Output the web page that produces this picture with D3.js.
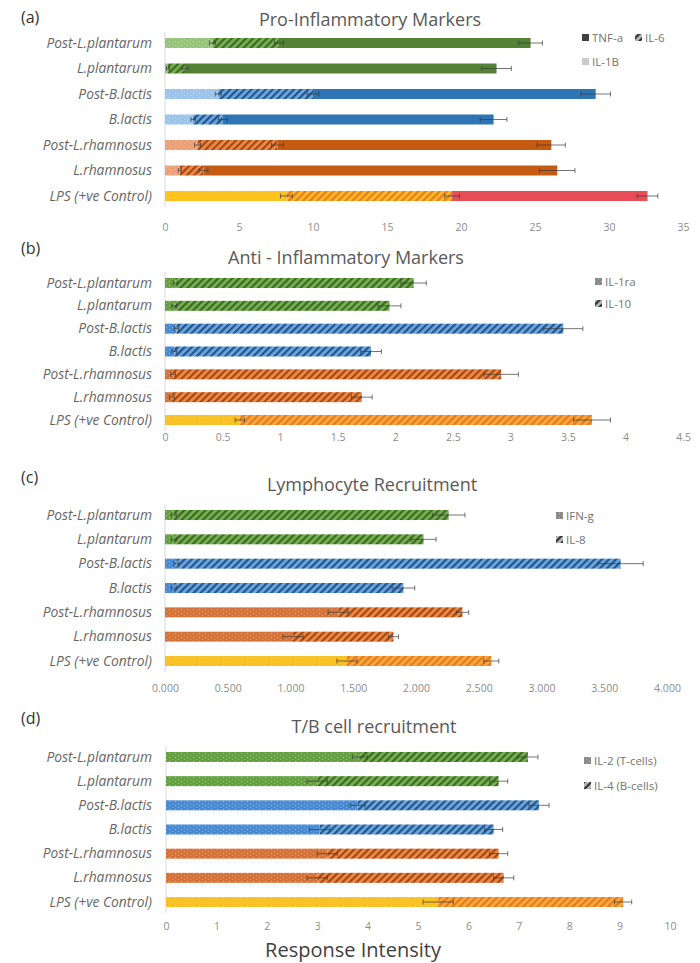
<!DOCTYPE html>
<html>
<head>
<meta charset="utf-8">
<script src="https://cdn.jsdelivr.net/npm/d3@7"></script>
<style>
    body { margin: 0; background: #fff; }
    svg { display: block; font-family: "Open Sans", Lato, sans-serif; }
</style>
</head>
<body>
<svg id="chart" width="700" height="963"></svg>
<script>
"use strict";

var categories = ['Post-L.plantarum', 'L.plantarum', 'Post-B.lactis', 'B.lactis',
                  'Post-L.rhamnosus', 'L.rhamnosus', 'LPS (+ve Control)'];

// (a) pro-inflammatory, stacked IL-1B -> IL-6 -> TNF-a
var il1bValues = [3.2, 0.2, 3.6, 1.9, 2.2, 1.0, 8.2];
var il1bErrors = [0.2, 0.1, 0.2, 0.15, 0.2, 0.1, 0.4];
var il6Values = [4.5, 1.15, 6.4, 2.0, 5.4, 1.6, 11.2];
var il6Errors = [0.3, 0.2, 0.4, 0.3, 0.4, 0.3, 0.5];
var tnfValues = [17.0, 21.05, 19.1, 18.3, 18.5, 23.9, 13.2];
var tnfErrors = [0.8, 1.0, 1.0, 0.9, 0.95, 1.2, 0.7];
var ticksA = [0, 5, 10, 15, 20, 25, 30, 35];

// (b) anti-inflammatory, IL-1ra -> IL-10
var il1raValues = [0.09, 0.08, 0.1, 0.08, 0.07, 0.06, 0.65];
var il1raErrors = [0.02, 0.02, 0.02, 0.02, 0.02, 0.02, 0.04];
var il10Values = [2.07, 1.87, 3.36, 1.71, 2.85, 1.65, 3.06];
var il10Errors = [0.11, 0.1, 0.17, 0.09, 0.15, 0.09, 0.16];
var ticksB = [0, 0.5, 1, 1.5, 2, 2.5, 3, 3.5, 4, 4.5];

// (c) lymphocyte recruitment, IFN-g -> IL-8
var ifngValues = [0.07, 0.07, 0.09, 0.07, 1.38, 1.02, 1.45];
var ifngErrors = [0.02, 0.02, 0.02, 0.02, 0.08, 0.08, 0.08];
var il8Values = [2.19, 1.99, 3.54, 1.83, 0.99, 0.80, 1.15];
var il8Errors = [0.13, 0.1, 0.18, 0.09, 0.05, 0.04, 0.06];
var ticksC = [0, 0.5, 1, 1.5, 2, 2.5, 3, 3.5, 4];

// (d) T/B cell recruitment, IL-2 -> IL-4
var il2Values = [3.85, 3.0, 3.8, 3.05, 3.2, 3.0, 5.4];
var il2Errors = [0.15, 0.2, 0.15, 0.2, 0.2, 0.2, 0.3];
var il4Values = [3.33, 3.6, 3.6, 3.45, 3.4, 3.7, 3.67];
var il4Errors = [0.2, 0.18, 0.2, 0.18, 0.18, 0.2, 0.17];
var ticksD = [0, 1, 2, 3, 4, 5, 6, 7, 8, 9, 10];

// colour family of each row: green, green, blue, blue, orange, orange, LPS
var families = ['green', 'green', 'blue', 'blue', 'orange', 'orange', 'lps'];
var palette = {
    green:  {solid: '#548235', light: '#97c47a', dotted: '#67a043', hatch: '#78b152', stripe: '#3b6b22'},
    blue:   {solid: '#2e75b6', light: '#9cc3e8', dotted: '#4a8ad0', hatch: '#6fa6dc', stripe: '#1f5590'},
    orange: {solid: '#c55a11', light: '#eba07a', dotted: '#d5743a', hatch: '#ee8a48', stripe: '#a44710'},
    lps:    {solid: '#e94d57', light: '#fdc01c', dotted: '#f8c024', hatch: '#f9a83e', stripe: '#e57a1e'},
    key:    {solid: '#404040', light: '#c8c8c8', dotted: '#8a8a8a', hatch: '#bbbbbb', stripe: '#333333'}
};

var svg = d3.select('#chart');
var defs = svg.append('defs');

Object.keys(palette).forEach(function(name) {
    var c = palette[name];

    var hatch = defs.append('pattern')
        .attr('id', 'hatch-' + name)
        .attr('patternUnits', 'userSpaceOnUse')
        .attr('width', 5).attr('height', 5)
        .attr('patternTransform', 'rotate(45)');
    hatch.append('rect').attr('width', 5).attr('height', 5).attr('fill', c.hatch);
    hatch.append('rect').attr('width', 2.2).attr('height', 5).attr('fill', c.stripe);

    // lps hatch in the pro-inflammatory panel is orange on yellow
    if (name === 'lps') {
        var alt = defs.append('pattern')
            .attr('id', 'hatch-lps-a')
            .attr('patternUnits', 'userSpaceOnUse')
            .attr('width', 5).attr('height', 5)
            .attr('patternTransform', 'rotate(45)');
        alt.append('rect').attr('width', 5).attr('height', 5).attr('fill', '#fdc01c');
        alt.append('rect').attr('width', 2.4).attr('height', 5).attr('fill', '#ea7b2a');
    }

    ['light', 'dotted'].forEach(function(kind) {
        var dots = defs.append('pattern')
            .attr('id', kind + '-' + name)
            .attr('patternUnits', 'userSpaceOnUse')
            .attr('width', 6).attr('height', 4);
        dots.append('rect').attr('width', 6).attr('height', 4).attr('fill', c[kind]);
        dots.append('rect').attr('x', 1).attr('y', 1).attr('width', 1).attr('height', 1)
            .attr('fill', '#ffffff').attr('opacity', 0.45);
        dots.append('rect').attr('x', 4).attr('y', 3).attr('width', 1).attr('height', 1)
            .attr('fill', '#ffffff').attr('opacity', 0.3);
    });
});

function fillFor(kind, family, panel) {
    if (kind === 'solid') { return palette[family].solid; }
    if (kind === 'hatch') {
        return (family === 'lps' && panel === 'a') ? 'url(#hatch-lps-a)' : 'url(#hatch-' + family + ')';
    }
    return 'url(#' + kind + '-' + family + ')';
}

function drawPanel(cfg) {
    var g = svg.append('g');

    var x = d3.scaleLinear().domain(cfg.domain).range(cfg.xRange);
    var y = d3.scalePoint().domain(categories).range(cfg.yRange);
    var barH = 10;

    // panel letter and title
    g.append('text')
        .attr('x', 21).attr('y', cfg.letterY)
        .attr('font-size', 16).attr('fill', '#333')
        .text(cfg.letter);
    g.append('text')
        .attr('x', cfg.titleX).attr('y', cfg.titleY)
        .attr('text-anchor', 'middle')
        .attr('font-size', 18).attr('fill', '#595959')
        .text(cfg.title);

    // faint value axis baseline
    g.append('line')
        .attr('x1', x(0)).attr('x2', x(0))
        .attr('y1', cfg.yRange[0] - 11).attr('y2', cfg.yRange[1] + 11)
        .attr('stroke', '#d9d9d9');

    // category labels
    g.append('g').selectAll('text')
        .data(categories)
        .join('text')
            .attr('x', 152)
            .attr('y', function(d) { return y(d) + 4.5; })
            .attr('text-anchor', 'end')
            .attr('font-size', 13.8)
            .attr('font-style', 'italic')
            .attr('fill', '#666')
            .text(function(d) { return d; });

    // tick labels
    var axis = d3.axisBottom(x).tickValues(cfg.ticks).tickSize(0).tickFormat(cfg.format);
    g.append('g')
        .attr('transform', 'translate(0,' + cfg.tickY + ')')
        .call(axis)
        .call(function(a) {
            a.select('.domain').remove();
            a.selectAll('text')
                .attr('font-family', '"Open Sans", sans-serif')
                .attr('font-size', 10.5)
                .attr('fill', '#8c8c8c');
        });

    // stacked bars
    var bars = g.append('g');
    var errs = g.append('g');
    categories.forEach(function(cat, i) {
        var start = 0;
        var fam = families[i];
        cfg.series.forEach(function(s) {
            var end = start + s.values[i];
            bars.append('rect')
                .attr('x', x(start))
                .attr('y', y(cat) - barH / 2)
                .attr('width', x(end) - x(start))
                .attr('height', barH)
                .attr('fill', fillFor(s.kind, fam, cfg.id));

            var e = s.errors[i];
            var cy = y(cat);
            errs.append('path')
                .attr('d', 'M' + x(end - e) + ',' + (cy - 2.5) + 'V' + (cy + 2.5) +
                           'M' + x(end - e) + ',' + cy + 'H' + x(end + e) +
                           'M' + x(end + e) + ',' + (cy - 2.5) + 'V' + (cy + 2.5))
                .attr('fill', 'none')
                .attr('stroke', '#3a3a3a')
                .attr('stroke-opacity', 0.7)
                .attr('stroke-width', 1);
            start = end;
        });
    });

    // legend
    var leg = g.append('g');
    cfg.legend.forEach(function(item) {
        leg.append('rect')
            .attr('x', item.x).attr('y', item.y - 4)
            .attr('width', 7).attr('height', 7)
            .attr('fill', fillFor(item.kind, 'key', cfg.id));
        leg.append('text')
            .attr('x', item.x + 10).attr('y', item.y + 4)
            .attr('font-size', 11.5).attr('fill', '#737373')
            .text(item.label);
    });
}

drawPanel({
    id: 'a', letter: '(a)', letterY: 23,
    title: 'Pro-Inflammatory Markers', titleX: 370, titleY: 26,
    domain: [0, 35], xRange: [165, 683], yRange: [43, 196], tickY: 221,
    ticks: ticksA, format: d3.format('d'),
    series: [
        {kind: 'light', values: il1bValues, errors: il1bErrors},
        {kind: 'hatch', values: il6Values, errors: il6Errors},
        {kind: 'solid', values: tnfValues, errors: tnfErrors}
    ],
    legend: [
        {kind: 'solid', label: 'TNF-a', x: 582, y: 38},
        {kind: 'hatch', label: 'IL-6', x: 635, y: 38},
        {kind: 'light', label: 'IL-1B', x: 582, y: 62}
    ]
});

drawPanel({
    id: 'b', letter: '(b)', letterY: 254,
    title: 'Anti - Inflammatory Markers', titleX: 346, titleY: 264,
    domain: [0, 4.5], xRange: [165, 683], yRange: [283, 420], tickY: 431,
    ticks: ticksB, format: d3.format(''),
    series: [
        {kind: 'dotted', values: il1raValues, errors: il1raErrors},
        {kind: 'hatch', values: il10Values, errors: il10Errors}
    ],
    legend: [
        {kind: 'dotted', label: 'IL-1ra', x: 595, y: 282},
        {kind: 'hatch', label: 'IL-10', x: 595, y: 304}
    ]
});

drawPanel({
    id: 'c', letter: '(c)', letterY: 483,
    title: 'Lymphocyte Recruitment', titleX: 372, titleY: 491,
    domain: [0, 4], xRange: [165, 667], yRange: [515, 661], tickY: 682,
    ticks: ticksC, format: d3.format('.3f'),
    series: [
        {kind: 'dotted', values: ifngValues, errors: ifngErrors},
        {kind: 'hatch', values: il8Values, errors: il8Errors}
    ],
    legend: [
        {kind: 'dotted', label: 'IFN-g', x: 556, y: 516},
        {kind: 'hatch', label: 'IL-8', x: 556, y: 540}
    ]
});

drawPanel({
    id: 'd', letter: '(d)', letterY: 724,
    title: 'T/B cell recruitment', titleX: 374, titleY: 733,
    domain: [0, 10], xRange: [166, 670], yRange: [757, 902], tickY: 920,
    ticks: ticksD, format: d3.format('d'),
    series: [
        {kind: 'dotted', values: il2Values, errors: il2Errors},
        {kind: 'hatch', values: il4Values, errors: il4Errors}
    ],
    legend: [
        {kind: 'dotted', label: 'IL-2 (T-cells)', x: 584, y: 761},
        {kind: 'hatch', label: 'IL-4 (B-cells)', x: 584, y: 786}
    ]
});

svg.append('text')
    .attr('x', 353).attr('y', 957)
    .attr('text-anchor', 'middle')
    .attr('font-size', 20)
    .attr('fill', '#404040')
    .text('Response Intensity');
</script>
</body>
</html>
